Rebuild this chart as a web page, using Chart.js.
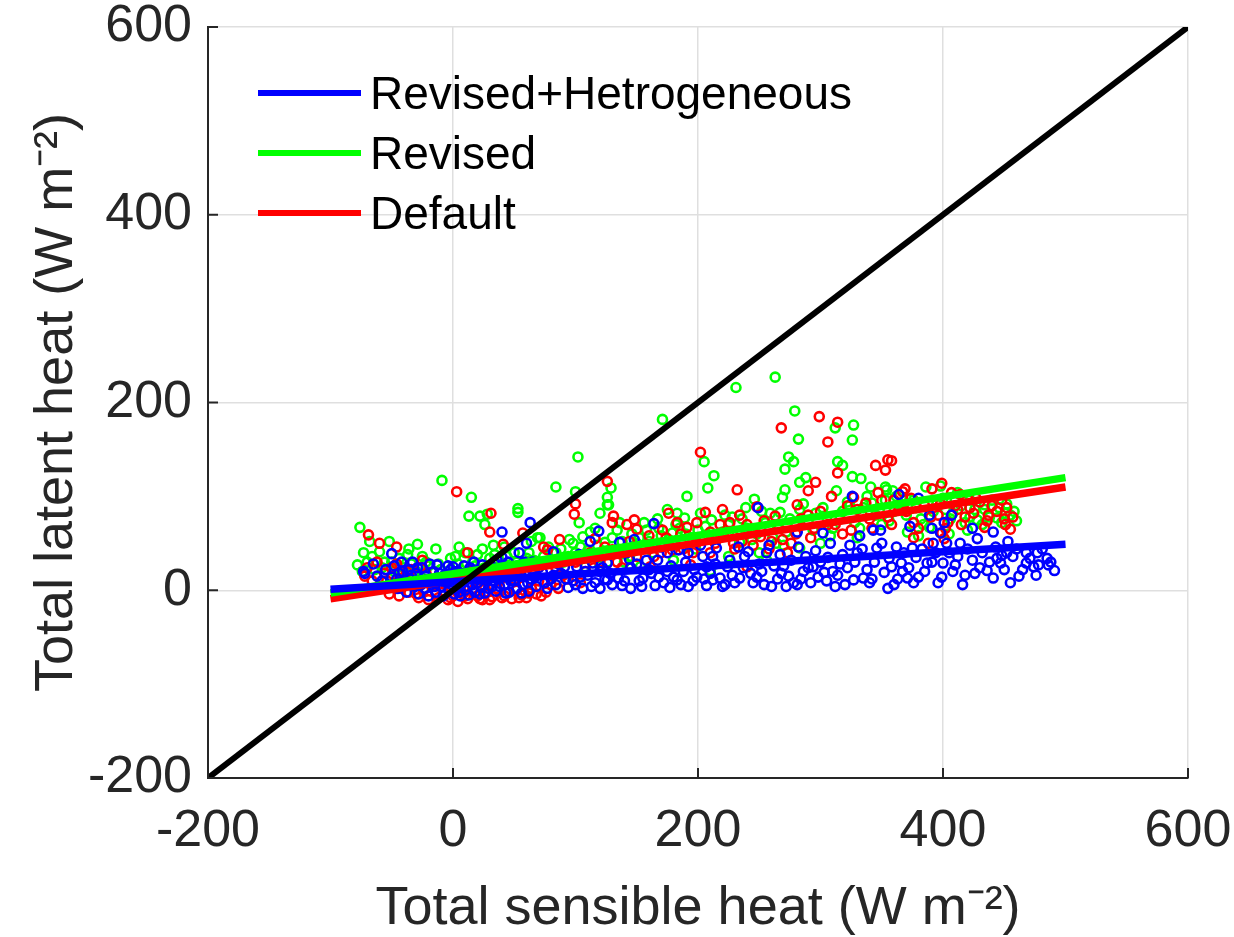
<!DOCTYPE html>
<html>
<head>
<meta charset="utf-8">
<script src="https://cdn.jsdelivr.net/npm/chart.js@4.4.1/dist/chart.umd.min.js"></script>
<style>
  html, body { margin: 0; padding: 0; background: #ffffff; }
  #wrap { width: 1234px; height: 937px; position: relative; }
</style>
</head>
<body>
<div id="wrap"><canvas id="c"></canvas></div>
<script>
// ---------- data ----------
const seriesLabels = ['Revised+Hetrogeneous', 'Revised', 'Default'];
const tickValues = [-200, 0, 200, 400, 600];
const xTitle = 'Total sensible heat (W m\u207B\u00B2)';
const yTitle = 'Total latent heat (W m\u207B\u00B2)';

// 1:1 line
const oneToOneX = [-200, 600];
const oneToOneY = [-200, 600];

// fitted lines (x from -100 to 500)
const fitX = [-100, 500];
const blueFitY = [1, 49];
const greenFitY = [-3, 120];
const redFitY = [-9, 110];

// scatter points [x, y]
const bluePoints = [
[-73,20],[-72,18],[-65,28],[-62,15],[-58,10],[-55,22],[-52,5],[-50,39],[-50,14],[-48,26],[-45,2],[-44,18],[-42,30],[-40,8],[-38,-2],[-36,22],[-35,12],[-33,30],[-31,4],[-30,18],[-28,-4],[-27,10],[-25,24],[-23,2],[-22,15],[-20,-6],[-18,8],[-16,20],[-14,-2],[-13,27],[-12,12],[-10,4],[-8,-6],[-7,16],[-5,8],[-3,0],[-2,22],[0,25],[1,-4],[2,12],[4,5],[5,-2],[7,18],[8,8],[10,0],[11,14],[13,-5],[14,24],[16,6],[18,-2],[19,12],[21,20],[23,3],[24,27],[26,-3],[28,10],[30,16],[32,4],[34,28],[35,-1],[37,12],[39,20],[40,35],[40,62],[42,6],[44,16],[46,-2],[48,24],[50,10],[52,2],[54,40],[55,18],[57,6],[58,30],[60,50],[62,-1],[63,72],[64,12],[66,22],[68,4],
[-46,12],[-41,20],[-37,6],[-34,16],[-29,24],[-26,6],[-21,12],[-19,28],[-15,4],[-11,18],[-9,10],[-4,26],[-1,6],[3,20],[6,-6],[9,26],[12,4],[15,16],[17,30],[20,8],[22,-4],[25,16],[27,22],[29,2],[31,26],[33,10],[36,32],[38,4],[41,24],[43,-3],[45,30],[47,10],[51,18],[53,26],[56,-3],[59,16],[61,8],[65,30],[67,14],[70,24],
[73,19],[77,2],[80,12],[82,41],[82,16],[86,28],[91,25],[94,3],[98,10],[101,25],[104,14],[106,2],[108,20],[112,52],[114,29],[116,8],[119,63],[120,2],[120,20],[124,12],[126,29],[126,11],[130,6],[135,13],[136,51],[138,5],[144,33],[145,2],[145,24],[148,54],[152,10],[155,13],[158,32],[162,18],[164,71],[165,5],[167,32],[172,8],[175,40],[175,20],[177,3],[180,14],[183,11],[184,43],[188,20],[192,40],[192,4],[196,10],[199,14],[204,36],[207,5],[207,25],[210,18],[212,11],[212,36],[215,45],[218,13],[222,6],[224,25],[228,16],[233,46],[234,13],[237,24],[241,41],[245,8],[248,14],[249,88],[252,20],[256,40],[260,4],[265,12],[267,38],[270,26],[274,15],[278,8],[281,62],[281,6],[282,46],[286,20],
[75,8],[78,30],[84,6],[88,18],[92,12],[96,32],[100,6],[103,38],[110,16],[113,4],[118,36],[122,24],[128,18],[132,42],[140,10],[142,40],[150,28],[154,4],[160,22],[168,14],[170,46],[178,26],[186,6],[190,30],[197,22],[202,48],[205,12],[214,28],[220,4],[226,32],[230,8],[238,36],[243,18],[250,28],[254,6],[258,48],[262,26],[268,18],[272,4],[276,32],[284,12],[288,36],
[290,24],[294,25],[298,14],[302,61],[303,19],[306,35],[310,20],[312,4],[316,28],[322,24],[324,48],[326,100],[327,11],[330,40],[332,58],[335,13],[338,22],[342,12],[343,64],[346,45],[349,64],[352,19],[355,2],[358,25],[362,46],[363,12],[364,102],[366,29],[367,20],[371,13],[373,68],[375,45],[378,35],[380,14],[380,98],[387,29],[389,80],[391,30],[391,66],[392,50],[396,8],[398,61],[400,29],[401,72],[405,40],[407,80],[410,27],[414,50],[418,16],[424,32],[424,66],[428,55],[430,24],[436,21],[441,13],[441,62],[444,34],[447,29],[448,37],[452,40],[453,52],[457,36],[462,15],[468,29],[468,40],[474,25],[477,40],[478,27],[485,34],[486,27],[491,21],
[292,8],[296,42],[300,30],[305,10],[308,50],[314,16],[318,38],[320,6],[328,30],[334,44],[340,8],[344,30],[350,50],[356,34],[360,6],[368,40],[372,24],[376,8],[383,44],[385,20],[394,40],[399,14],[403,50],[408,20],[412,36],[416,6],[420,44],[426,18],[432,40],[438,30],[443,46],[450,22],[455,8],[460,44],[465,22],[471,34],[476,16],[481,44],[488,30]
];

const greenPoints = [
[-9,117],[15,99],[53,87],[13,79],[22,79],[28,81],[-76,67],[-68,52],[-52,52],[-29,49],[-14,44],[5,46],[-2,34],[-73,40],[-78,27],[-60,41],[-37,38],[-25,36],[26,70],[33,48],[20,38],[53,83],[69,56],[71,56],[84,110],[100,105],[102,142],[103,72],[126,99],[126,91],[129,109],[171,182],[191,100],[205,137],[208,109],[213,122],[231,216],[263,227],[279,191],[282,161],[274,142],[278,137],[271,129],[288,120],[283,115],[271,107],[269,99],[246,97],[312,173],[327,176],[326,160],[314,137],[318,133],[326,121],[333,119],[341,110],[353,110],[313,106],[359,106],[342,93],[353,96],[322,94],[373,97],[386,110],[398,111],[422,96],[434,91],[434,86],[451,82],[444,77],[448,72],[408,82],[422,78],[428,75],[389,67],[371,62],[354,107],[95,54],[120,82],[127,91],[116,66],[106,57],[124,51],[126,30],[120,26],[108,25],[136,72],[175,86],[183,82],[167,76],[179,61],[189,77],[202,82],[211,75],[228,78],[239,88],[259,82],[267,83],[283,86],[261,56],[234,51],[212,54],[191,46],[163,40],[153,25],[210,21],[256,32],[283,45],
[-70,30],[-64,22],[-56,30],[-48,20],[-44,34],[-40,24],[-34,28],[-30,20],[-26,14],[-20,26],[-16,10],[-10,22],[-6,14],[0,18],[4,28],[8,12],[12,20],[16,30],[22,16],[26,24],[30,34],[36,20],[40,28],[44,36],[48,22],[52,30],[58,26],[62,40],[66,32],[74,36],[80,30],[88,44],[94,36],[100,40],[110,42],[118,48],[130,56],[140,44],[146,60],[150,50],[158,64],[160,52],[170,58],[185,66],[195,56],[200,64],[220,62],[225,70],[240,66],[248,60],[255,72],[265,66],[275,76],[290,72],[296,82],[305,78],[310,66],[318,84],[328,72],[335,88],[345,80],[350,70],[360,84],[365,92],[378,88],[382,76],[395,92],[402,86],[410,96],[415,90],[438,78],[455,80],[460,74],[300,50],[330,56],[380,58],[405,60],[420,64],[250,40],[225,36],[180,32],[140,30],[270,48],
[-74,20],[-66,36],[-58,24],[-50,30],[-42,18],[-36,44],[-32,12],[-22,30],[-12,28],[-4,20],[2,36],[6,22],[10,40],[18,26],[24,44],[28,14],[34,38],[38,26],[42,46],[46,14],[50,40],[54,20],[60,34],[64,52],[70,28],[78,46],[84,40],[90,30],[98,50],[104,46],[112,62],[122,40],[134,64],[138,52],[144,36],[152,56],[156,72],[164,46],[168,66],[176,54],[182,70],[190,60],[198,44],[206,68],[216,58],[222,80],[232,62],[236,76],[244,54],[252,84],[258,68],[264,50],[272,62],[280,70],[286,92],[294,64],[302,88],[308,58],[316,76],[324,90],[332,66],[338,100],[348,86],[356,74],[362,100],[370,80],[376,96],[384,70],[392,84],[400,98],[406,76],[412,104],[418,72],[426,86],[432,70],[440,96],[446,88],[452,92],[458,84]
];

const redPoints = [
[3,105],[31,82],[-69,59],[-60,50],[12,40],[-46,46],[-25,32],[30,62],[41,49],[57,61],[74,46],[126,116],[100,92],[99,81],[87,54],[77,43],[202,147],[232,107],[268,173],[299,185],[314,179],[306,158],[345,133],[355,139],[358,138],[353,128],[314,125],[296,115],[290,106],[309,100],[347,104],[327,99],[337,93],[369,108],[391,108],[399,114],[407,104],[414,102],[427,98],[422,88],[437,80],[457,78],[451,70],[455,65],[434,67],[415,70],[402,66],[376,56],[388,50],[401,55],[399,61],[376,72],[367,105],[131,79],[130,72],[142,70],[148,75],[150,65],[116,55],[130,43],[115,24],[176,82],[171,64],[183,72],[191,67],[199,72],[206,83],[220,86],[234,80],[226,72],[248,89],[263,79],[281,91],[251,57],[269,54],[229,50],[199,51],[179,43],[161,25],[194,27],[240,25],[273,40],
[-72,15],[-66,10],[-60,4],[-56,18],[-52,-4],[-48,8],[-44,-6],[-40,14],[-36,-2],[-32,6],[-28,-8],[-24,0],[-20,-10],[-16,4],[-12,-8],[-8,-2],[-4,-10],[0,-6],[4,-12],[8,-4],[12,-9],[16,0],[20,-6],[24,-10],[28,-2],[32,-7],[36,2],[40,-8],[44,-3],[48,-9],[52,0],[56,-5],[60,-8],[64,2],[68,-4],[72,-6],[-50,24],[-38,20],[-22,18],[-10,12],[2,14],[14,20],[24,10],[34,16],[46,22],[56,14],[66,20],[80,6],[90,16],[104,8],[120,30],[138,24],[150,36],[170,40],[188,44],[210,40],[230,44],[245,48],[260,52],[280,60],[295,66],[312,70],[325,64],[340,76],[355,78],[370,84],[385,90],[396,80],[412,86],[425,82],[440,90],[450,76],[210,62],[240,70],[160,58],[100,30],[84,24],[290,80],[330,86],[360,96],
[-70,24],[-62,30],[-54,10],[-46,28],[-42,2],[-34,22],[-30,-4],[-26,24],[-18,12],[-14,-4],[-6,6],[-2,-8],[6,2],[10,-6],[18,10],[22,-9],[26,4],[30,-10],[38,10],[42,-6],[50,12],[54,-8],[58,6],[62,-3],[70,10],[76,-2],[86,2],[94,12],[108,20],[112,40],[124,46],[134,30],[144,52],[154,46],[164,36],[174,56],[180,48],[186,60],[196,40],[204,56],[214,50],[218,70],[228,60],[236,52],[244,64],[254,74],[258,44],[266,66],[276,50],[284,76],[292,56],[300,84],[306,70],[318,60],[322,90],[334,80],[342,66],[350,96],[358,70],[364,86],[374,98],[380,66],[390,78],[398,92],[404,72],[410,90],[418,78],[430,94],[436,74],[444,84],[448,96],[452,88]
];

// ---------- helpers ----------
const toXY = pts => pts.map(p => ({x: p[0], y: p[1]}));
const lineXY = (xs, ys) => xs.map((x, i) => ({x: x, y: ys[i]}));

const BLUE = '#0000ff', GREEN = '#00ff00', RED = '#ff0000';
const FONT = "'Liberation Sans', Arial, Helvetica, sans-serif";
const AXIS_COLOR = '#262626';

// inward tick marks (MATLAB style)
const inwardTicks = {
  id: 'inwardTicks',
  afterDatasetsDraw(chart) {
    const {ctx, chartArea: a, scales: {x, y}} = chart;
    ctx.save();
    ctx.strokeStyle = AXIS_COLOR;
    ctx.lineWidth = 2;
    tickValues.forEach(v => {
      const px = x.getPixelForValue(v);
      ctx.beginPath(); ctx.moveTo(px, a.bottom); ctx.lineTo(px, a.bottom - 10); ctx.stroke();
      const py = y.getPixelForValue(v);
      ctx.beginPath(); ctx.moveTo(a.left, py); ctx.lineTo(a.left + 10, py); ctx.stroke();
    });
    ctx.restore();
  }
};

// legend inside the axes, no box
const insideLegend = {
  id: 'insideLegend',
  afterDraw(chart) {
    const {ctx, chartArea: a} = chart;
    const items = [
      {label: seriesLabels[0], color: BLUE},
      {label: seriesLabels[1], color: GREEN},
      {label: seriesLabels[2], color: RED}
    ];
    ctx.save();
    ctx.font = '46px ' + FONT;
    ctx.textBaseline = 'middle';
    ctx.textAlign = 'left';
    items.forEach((it, i) => {
      const yy = a.top + 66 + i * 60;
      ctx.strokeStyle = it.color;
      ctx.lineWidth = 6;
      ctx.beginPath(); ctx.moveTo(a.left + 50, yy); ctx.lineTo(a.left + 153, yy); ctx.stroke();
      ctx.fillStyle = '#000000';
      ctx.fillText(it.label, a.left + 162, yy + 3);
    });
    ctx.restore();
  }
};

const scatterStyle = color => ({
  type: 'scatter',
  showLine: false,
  pointStyle: 'circle',
  pointRadius: 4.5,
  pointHoverRadius: 4.5,
  pointBorderWidth: 2.6,
  borderColor: color,
  backgroundColor: 'rgba(0,0,0,0)',
  pointBackgroundColor: 'rgba(0,0,0,0)'
});

const lineStyle = (color, width) => ({
  type: 'line',
  showLine: true,
  pointRadius: 0,
  borderColor: color,
  backgroundColor: color,
  borderWidth: width,
  fill: false,
  tension: 0
});

const data = {
  datasets: [
    Object.assign({label: '1:1', data: lineXY(oneToOneX, oneToOneY), order: 0}, lineStyle('#000000', 6)),
    Object.assign({label: seriesLabels[0] + ' fit', data: lineXY(fitX, blueFitY), order: 1}, lineStyle(BLUE, 7.5)),
    Object.assign({label: seriesLabels[1] + ' fit', data: lineXY(fitX, greenFitY), order: 2}, lineStyle(GREEN, 7.5)),
    Object.assign({label: seriesLabels[2] + ' fit', data: lineXY(fitX, redFitY), order: 3}, lineStyle(RED, 7.5)),
    Object.assign({label: seriesLabels[0], data: toXY(bluePoints), order: 4}, scatterStyle(BLUE)),
    Object.assign({label: seriesLabels[2], data: toXY(redPoints), order: 5}, scatterStyle(RED)),
    Object.assign({label: seriesLabels[1], data: toXY(greenPoints), order: 6}, scatterStyle(GREEN))
  ]
};

const tickFont = {family: FONT, size: 52};
const titleFont = {family: FONT, size: 54, lineHeight: 1.2};
const noPad = s => { s.paddingTop = 0; s.paddingBottom = 0; s.paddingLeft = 0; s.paddingRight = 0; };

new Chart(document.getElementById('c'), {
  type: 'scatter',
  data: data,
  plugins: [inwardTicks, insideLegend],
  options: {
    responsive: true,
    maintainAspectRatio: false,
    animation: false,
    events: [],
    layout: {padding: {top: 27, right: 46, left: 0, bottom: 0}},
    plugins: {
      legend: {display: false},
      tooltip: {enabled: false},
      title: {display: false}
    },
    scales: {
      x: {
        type: 'linear',
        min: -200, max: 600,
        afterBuildTicks: s => { s.ticks = tickValues.map(v => ({value: v})); },
        afterFit: s => { s.height = 159; noPad(s); },
        ticks: {font: tickFont, color: '#262626', padding: 22, maxRotation: 0, autoSkip: false},
        grid: {color: '#dfdfdf', lineWidth: 1.5, drawTicks: false},
        border: {display: true, color: AXIS_COLOR, width: 2},
        title: {display: true, text: xTitle, font: titleFont, color: '#262626', padding: {top: 0, bottom: -5}}
      },
      y: {
        type: 'linear',
        min: -200, max: 600,
        afterBuildTicks: s => { s.ticks = tickValues.map(v => ({value: v})); },
        afterFit: s => { s.width = 208; noPad(s); },
        ticks: {font: tickFont, color: '#262626', padding: 16, autoSkip: false},
        grid: {color: '#dfdfdf', lineWidth: 1.5, drawTicks: false},
        border: {display: true, color: AXIS_COLOR, width: 2},
        title: {display: true, text: yTitle, font: titleFont, color: '#262626', padding: {top: 25, bottom: 0}}
      }
    }
  }
});
</script>
</body>
</html>
